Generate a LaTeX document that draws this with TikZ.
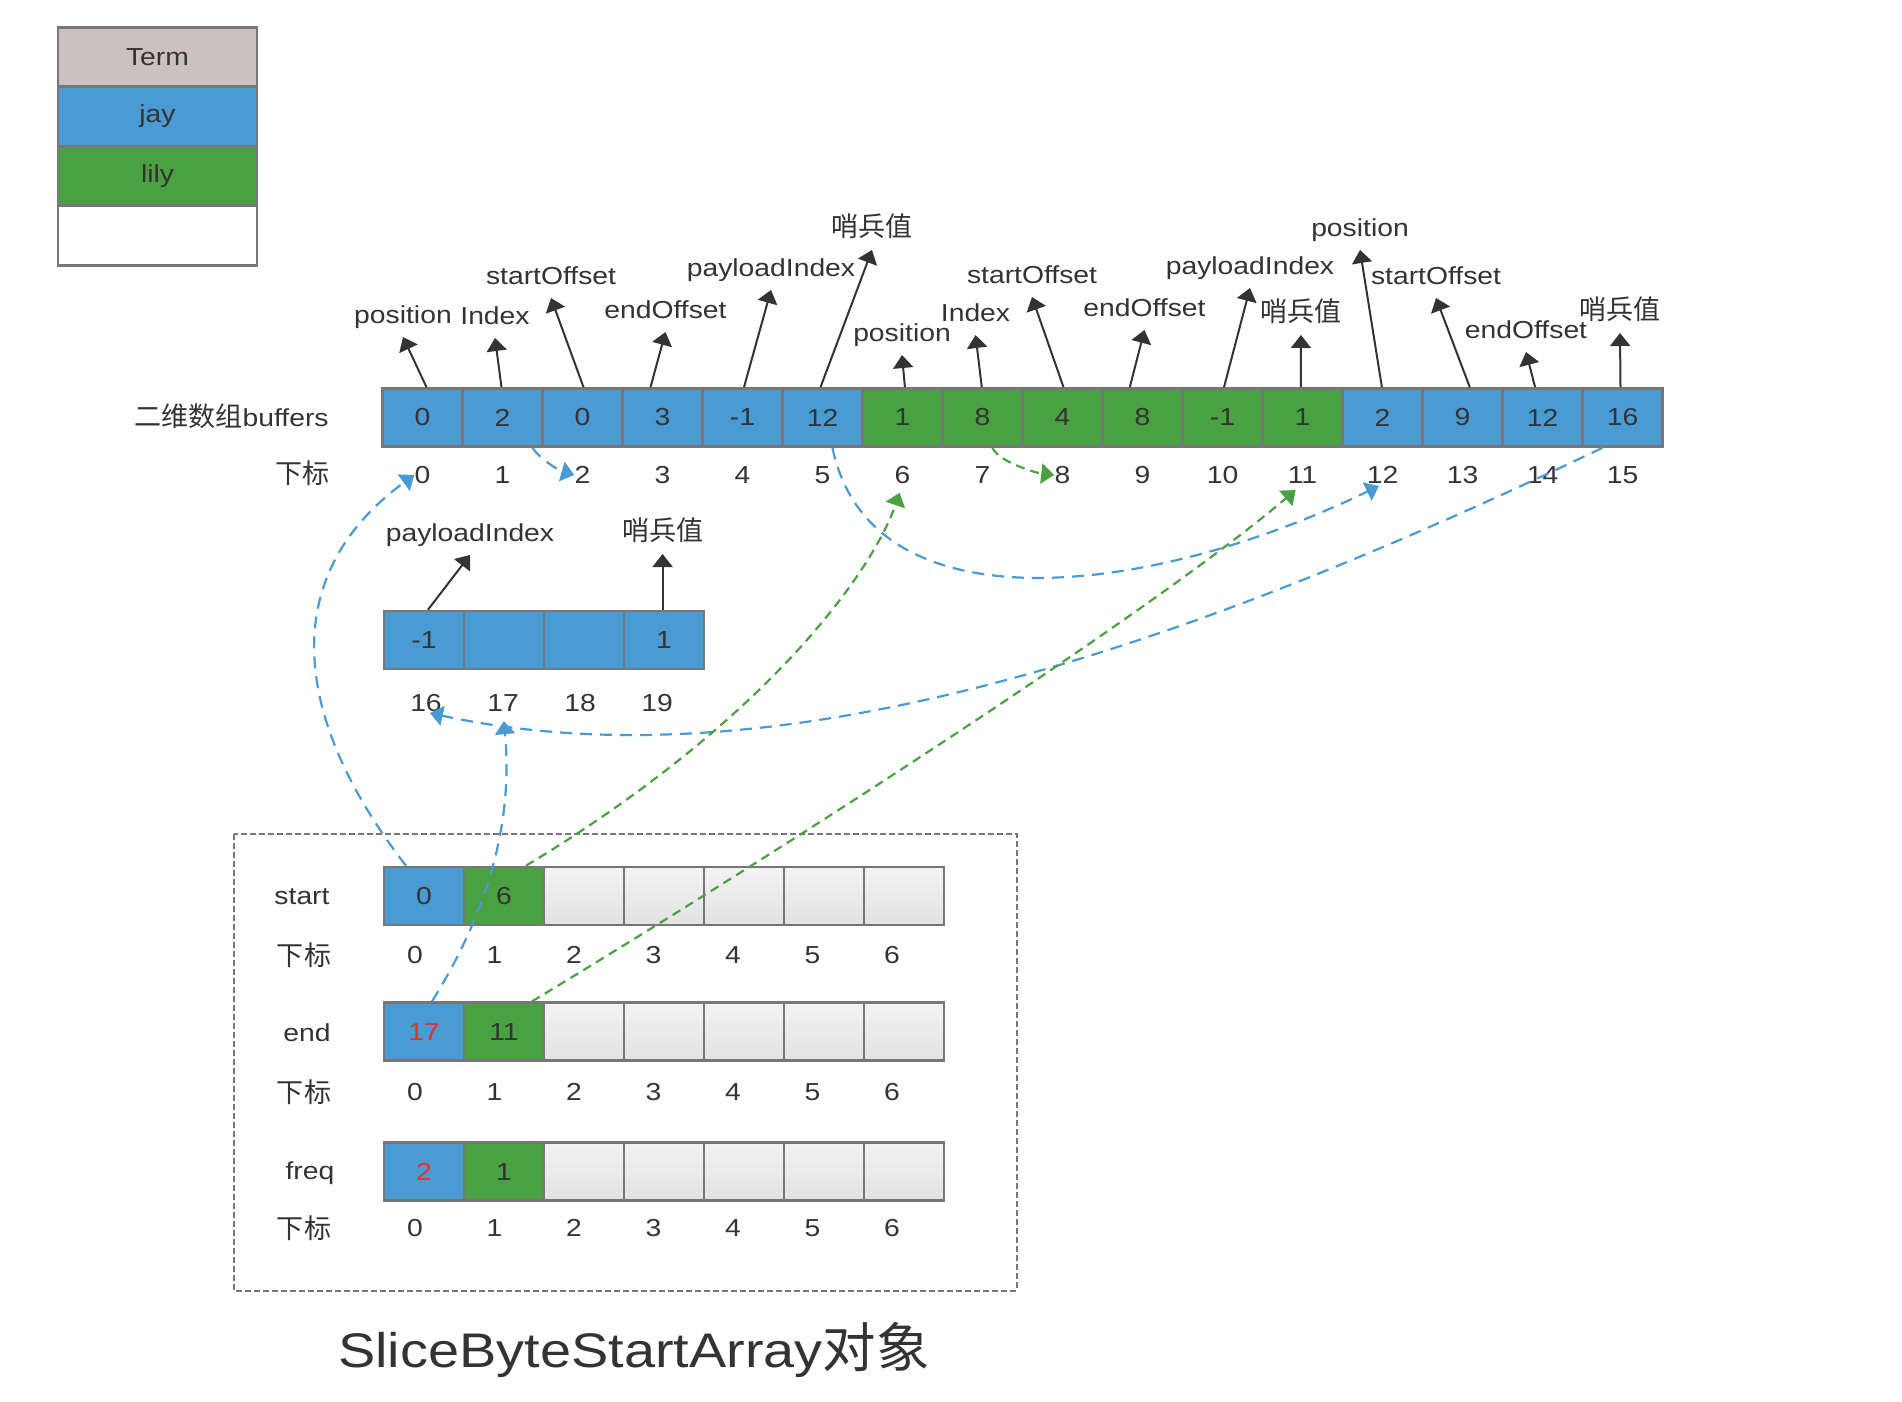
\documentclass[tikz,border=0pt]{standalone}
\usepackage{fontspec}
\setmainfont{Liberation Sans}[FakeStretch=1.15]
\newfontfamily\cjk{Noto Sans CJK SC}[Scale=1.1]
\usetikzlibrary{arrows.meta}
\definecolor{jayblue}{HTML}{4A9BD3}
\definecolor{lilygreen}{HTML}{4AA142}
\definecolor{termgray}{HTML}{CCC1C1}
\definecolor{slotline}{HTML}{777777}
\definecolor{ink}{HTML}{333333}
\definecolor{hotred}{HTML}{F02C2C}
\definecolor{freetop}{HTML}{F3F3F3}
\definecolor{freebot}{HTML}{E2E2E2}

\begin{document}
\begin{tikzpicture}[x=0.5pt,y=-0.5pt,>={Triangle[length=6.5pt,width=10pt]},
  every node/.style={text=ink,font=\fontsize{12.3}{15}\selectfont},
  slot/.style={draw=slotline,line width=1.3pt,minimum width=40pt,minimum height=29pt,inner sep=0pt},
  jayslot/.style={slot,fill=jayblue},
  lilyslot/.style={slot,fill=lilygreen},
  freeslot/.style={slot,top color=freetop,bottom color=freebot},
  legendrow/.style={draw=slotline,line width=1.3pt,minimum width=99.5pt,minimum height=29.75pt,inner sep=0pt},
  idxnum/.style={inner sep=0pt,text height=8.8pt,text depth=0pt},
  fieldname/.style={anchor=south,inner sep=3.5pt,text height=9pt,text depth=3pt},
  fieldarrow/.style={->,draw=ink,line width=1pt},
  bluelink/.style={->,draw=jayblue,line width=1.1pt,dash pattern=on 6pt off 4pt},
  greenlink/.style={->,draw=lilygreen,line width=1.1pt,dash pattern=on 4.5pt off 3pt},
  groupbox/.style={draw=slotline,line width=1pt,dash pattern=on 3pt off 1.5pt}]
\useasboundingbox (0,0) rectangle (1902,1402);

% legend
\node[legendrow,fill=termgray] (lgterm) at (157.5,57) {Term};
\node[legendrow,fill=jayblue] (lgjay) at (157.5,116.5) {jay};
\node[legendrow,fill=lilygreen] (lglily) at (157.5,176) {lily};
\node[legendrow,fill=white] (lgnone) at (157.5,235.5) {};

% buffers
\node[anchor=east,inner sep=0pt] (bufname) at (329,416) {{\cjk 二维数组}buffers};
\node (bufsub) at (302.5,473) {\cjk 下标};
\foreach \v/\c [count=\k from 0] in {0/jayslot,2/jayslot,0/jayslot,3/jayslot,-1/jayslot,12/jayslot,
    1/lilyslot,8/lilyslot,4/lilyslot,8/lilyslot,-1/lilyslot,1/lilyslot,
    2/jayslot,9/jayslot,12/jayslot,16/jayslot}
  \node[\c] (b\k) at (422.5+80*\k,417.5) {\v};
\foreach \k in {0,...,15}
  \node[idxnum] (i\k) at (422.5+80*\k,475) {\k};

\foreach \k/\dx/\tx/\ty/\txt in {0/4/403/337/position, 1/-1/495/338/Index,
    2/1/551/298/startOffset, 3/-12/665.5/332/endOffset, 4/1.5/771/290/payloadIndex,
    5/-2/872/250/{\cjk 哨兵值}, 6/2.4/902/355/position, 7/-0.7/975.5/335/Index,
    8/1/1032/297/startOffset, 9/-12.7/1144.5/330/endOffset, 10/1.5/1250/288/payloadIndex,
    11/-1.7/1301/335/{\cjk 哨兵值}, 12/-0.6/1360/250/position, 13/7.3/1436/298/startOffset,
    14/-7.4/1526/352/endOffset, 15/-2/1620/333/{\cjk 哨兵值}}
{
  \node[fieldname] (f\k) at (\tx,\ty) {\txt};
  \draw[fieldarrow] ([xshift=\dx*0.5pt]b\k.north) -- (f\k.south);
}

% second slice
\foreach \v [count=\k from 16] in {-1,{},{},1}
  \node[jayslot] (c\k) at (424+80*\k-1280,640) {\v};
\foreach \k in {16,...,19}
  \node[idxnum] (i\k) at (426+77*\k-1232,703) {\k};
\node[fieldname] (f16) at (470,555) {payloadIndex};
\node[fieldname] (f19) at (662.6,554) {\cjk 哨兵值};
\draw[fieldarrow] ([xshift=2pt]c16.north) -- (f16.south);
\draw[fieldarrow] ([xshift=-0.7pt]c19.north) -- (f19.south);

% SliceByteStartArray
\draw[groupbox] (234,833.5) rectangle (1016.5,1290.5);
\node (stname) at (302,897) {start};
\node (enname) at (307,1033) {end};
\node (fqname) at (310,1173) {freq};
\foreach \r/\y in {st/896,en/1031.7,fq/1171.7}
  \foreach \k in {2,...,6}
    \node[freeslot] (\r\k) at (424+80*\k,\y) {};
\node[jayslot] (st0) at (424,896) {0};
\node[lilyslot] (st1) at (504,896) {6};
\node[jayslot,text=hotred] (en0) at (424,1031.7) {17};
\node[lilyslot] (en1) at (504,1031.7) {11};
\node[jayslot,text=hotred] (fq0) at (424,1171.7) {2};
\node[lilyslot] (fq1) at (504,1171.7) {1};
\foreach \r/\y in {sx/955,ex/1092,fx/1228}
{
  \node (\r sub) at (304,\y) {\cjk 下标};
  \foreach \k in {0,...,6}
    \node[idxnum] (\r\k) at (415+79.5*\k,\y) {\k};
}
\node[anchor=base,font=\fontsize{24.3}{29}\selectfont] (title) at (634,1367) {SliceByteStartArray{\cjk 对象}};

% links
\draw[bluelink] ([xshift=15pt]b1.south) .. controls +(8,12) and +(-14,-4) .. (i2.west);
\draw[greenlink] ([xshift=5pt]b7.south) .. controls +(6,14) and +(-18,-2) .. (i8.west);
\draw[bluelink,shorten >=2pt] ([xshift=5pt]b5.south) .. controls +(38,183) and +(-233,113) .. (i12.south);
\draw[bluelink,shorten >=2pt] ([xshift=-10pt]b15.south) .. controls +(-390,186) and +(365,79) .. (i16.south);
\draw[bluelink] ([xshift=-9pt]st0.north) .. controls +(-110,-142) and +(-142,104) .. (i0.west);
\draw[bluelink,shorten >=4.5pt] ([xshift=4pt]en0.north) .. controls +(58,-93) and +(10,107) .. (i17.south);
\draw[greenlink,shorten >=4.5pt] ([xshift=11pt]st1.north) .. controls +(244,-147) and +(-29,85) .. (i6.south);
\draw[greenlink,shorten >=4.5pt] ([xshift=14pt]en1.north) .. controls +(250,-151) and +(-148,126) .. (i11.south);
\end{tikzpicture}
\end{document}
